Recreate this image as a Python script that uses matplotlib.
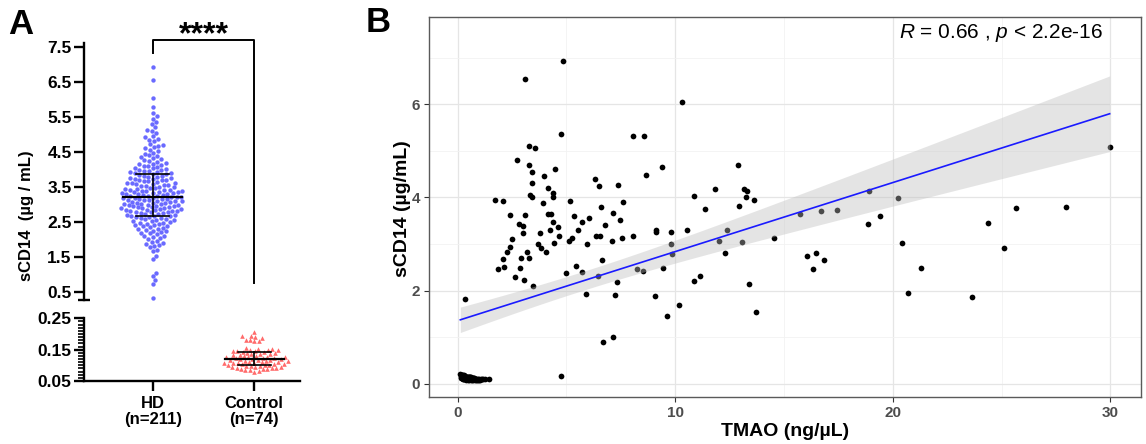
import numpy as np
import matplotlib
matplotlib.use("Agg")
import matplotlib.pyplot as plt

plt.rcParams['font.family'] = ['Liberation Sans', 'DejaVu Sans']
plt.rcParams['mathtext.fontset'] = 'custom'
plt.rcParams['mathtext.rm'] = 'Liberation Sans'
plt.rcParams['mathtext.it'] = 'Liberation Sans:italic'

# ---- panel A data (sCD14, ug/mL) ----
groups = ['HD\n(n=211)', 'Control\n(n=74)']
hd_vals = [0.33, 0.73, 0.85, 0.97, 1.05, 1.45, 1.55, 1.68, 1.72,
           1.78, 1.82, 1.85, 1.88, 1.90, 1.94, 1.97,
           2.02, 2.05, 2.08, 2.10, 2.12, 2.15, 2.18, 2.20, 2.22, 2.24,
           2.26, 2.28, 2.30, 2.32, 2.34, 2.36, 2.38, 2.40, 2.41, 2.43, 2.45, 2.46, 2.48, 2.49,
           2.51, 2.52, 2.54, 2.55, 2.57, 2.58, 2.60, 2.61, 2.63, 2.64, 2.66, 2.67, 2.68, 2.69,
           2.70, 2.71, 2.72, 2.74,
           2.76, 2.77, 2.78, 2.79, 2.80, 2.81, 2.82, 2.83, 2.84, 2.85, 2.86, 2.87, 2.88, 2.89,
           2.90, 2.91, 2.92, 2.93, 2.94, 2.95, 2.96, 2.97, 2.98, 2.99,
           3.00, 3.01, 3.02, 3.03, 3.04, 3.05, 3.06, 3.07, 3.08, 3.09, 3.10, 3.11, 3.12, 3.13,
           3.14, 3.15, 3.16, 3.17, 3.18, 3.19, 3.20, 3.21, 3.22, 3.23, 3.24, 3.245,
           3.26, 3.27, 3.28, 3.29, 3.30, 3.31, 3.32, 3.33, 3.34, 3.35, 3.36, 3.37, 3.38, 3.39,
           3.40, 3.41, 3.42, 3.43, 3.44, 3.45, 3.46, 3.47, 3.49,
           3.51, 3.52, 3.54, 3.55, 3.57, 3.58, 3.60, 3.61, 3.62, 3.63, 3.65, 3.66, 3.67, 3.69,
           3.70, 3.71, 3.72, 3.74,
           3.76, 3.77, 3.79, 3.80, 3.82, 3.83, 3.85, 3.86, 3.88, 3.89, 3.90, 3.92, 3.93, 3.95,
           3.96, 3.98, 3.99,
           4.01, 4.03, 4.05, 4.07, 4.09, 4.11, 4.13, 4.15, 4.17, 4.19, 4.21, 4.24,
           4.27, 4.30, 4.33, 4.36, 4.39, 4.42, 4.45, 4.48,
           4.52, 4.56, 4.60, 4.63, 4.66, 4.69, 4.72,
           4.80, 4.85, 4.88, 4.92, 4.96,
           5.05, 5.10, 5.14, 5.20, 5.30, 5.36, 5.45, 5.52, 5.60, 5.78,
           6.05, 6.55, 6.93]
ctrl_vals = [0.205, 0.192, 0.190, 0.188, 0.194, 0.180, 0.178, 0.182, 0.176,
             0.155, 0.153, 0.152, 0.150, 0.149, 0.148, 0.147, 0.146, 0.145, 0.144,
             0.142, 0.140, 0.138, 0.137, 0.136, 0.135, 0.134, 0.132, 0.131, 0.130,
             0.128, 0.127, 0.126, 0.125, 0.124, 0.123, 0.122, 0.121, 0.120, 0.119,
             0.118, 0.117, 0.116, 0.115, 0.114, 0.113, 0.112, 0.111, 0.110, 0.109,
             0.108, 0.107, 0.106, 0.105, 0.104, 0.103, 0.102, 0.101, 0.100, 0.099,
             0.098, 0.097, 0.096, 0.095, 0.094, 0.093, 0.092, 0.090, 0.089, 0.088,
             0.087, 0.085, 0.084, 0.082, 0.080]

# ---- panel B data (TMAO ng/uL vs sCD14 ug/mL) ----
tmao_hd = [0.32, 1.71, 2.09, 1.87, 2.09, 2.15, 2.28, 2.40, 2.40, 2.49, 2.65, 2.71, 2.86, 2.90,
           2.83, 2.98, 3.01, 3.06, 3.10, 3.10, 3.20, 3.26, 3.27, 3.29, 3.32, 3.41, 3.43, 3.43,
           3.44, 3.56, 3.69, 3.78, 3.85, 3.93, 3.96, 4.08, 4.13, 4.17, 4.24, 4.31, 4.36, 4.39,
           4.39, 4.43, 4.48, 4.63, 4.66, 4.74, 4.82, 4.74, 4.97, 5.11, 5.18, 5.24, 5.35, 5.46,
           5.55, 5.72, 5.72, 5.89, 5.96, 6.04, 6.30, 6.35, 6.44, 6.50, 6.54, 6.58, 6.65, 6.70,
           6.77, 7.09, 7.14, 7.13, 7.23, 7.33, 7.37, 7.45, 7.57, 7.60, 8.06, 8.07, 8.24, 8.52,
           8.55, 8.67, 9.07, 9.10, 9.10, 9.40, 9.42, 9.62, 9.80, 9.80, 9.85, 10.17, 10.31, 10.54,
           10.87, 10.87, 11.15, 11.35, 11.82, 12.03, 12.29, 12.39, 12.87, 12.95, 13.06, 13.15,
           13.23, 13.30, 13.38, 13.64, 13.73, 14.54, 15.73, 16.68, 17.42, 18.89, 20.23, 16.06,
           16.45, 16.34, 16.85, 18.86, 19.40, 20.43, 20.71, 21.31, 23.63, 24.37, 25.11, 25.68,
           27.96, 29.97]
scd14_hd = [1.82, 3.94, 3.93, 2.46, 2.67, 2.51, 2.82, 2.94, 3.62, 3.11, 2.30, 4.81, 2.48, 2.71,
            3.44, 3.39, 3.23, 2.24, 6.54, 3.62, 2.84, 2.71, 5.10, 4.69, 4.06, 4.00, 4.54, 4.31,
            2.10, 5.07, 3.01, 3.23, 2.91, 3.89, 4.46, 2.82, 3.65, 4.21, 3.31, 3.65, 3.48, 4.00,
            4.10, 3.03, 4.61, 3.37, 3.17, 5.36, 6.92, 0.16, 2.39, 3.07, 3.92, 3.12, 3.60, 2.53,
            3.30, 3.48, 2.41, 1.92, 3.01, 3.55, 4.39, 3.17, 2.32, 4.25, 3.17, 3.80, 2.66, 0.91,
            3.41, 3.07, 3.66, 1.01, 1.91, 2.19, 4.26, 3.51, 3.14, 3.91, 3.17, 5.32, 2.46, 2.43,
            5.32, 4.49, 1.89, 3.25, 3.30, 4.66, 2.48, 1.46, 3.25, 3.01, 2.79, 1.69, 6.04, 3.31,
            4.03, 2.21, 2.31, 3.76, 4.19, 3.07, 2.81, 3.30, 4.69, 3.82, 3.04, 4.19,
            4.00, 4.14, 2.14, 3.94, 1.54, 3.14, 3.64, 3.70, 3.72, 4.14, 3.99, 2.75,
            2.81, 2.46, 2.66, 3.44, 3.60, 3.03, 1.94, 2.49, 1.86, 3.46, 2.91, 3.78,
            3.80, 5.08]
tmao_ctrl = [0.12, 0.15, 0.18, 0.20, 0.22, 0.25, 0.28, 0.30, 0.33, 0.35,
             0.38, 0.40, 0.42, 0.45, 0.48, 0.50, 0.52, 0.55, 0.58, 0.60,
             0.14, 0.17, 0.21, 0.24, 0.27, 0.31, 0.34, 0.37, 0.41, 0.44,
             0.47, 0.51, 0.54, 0.57, 0.61, 0.64, 0.67, 0.70, 0.73, 0.76,
             0.19, 0.23, 0.29, 0.36, 0.43, 0.49, 0.56, 0.62, 0.68, 0.74,
             0.80, 0.85, 0.90, 0.95, 1.00, 1.05, 1.10, 1.18, 1.25, 1.45,
             0.26, 0.32, 0.39, 0.46, 0.53, 0.59, 0.66, 0.72, 0.78, 0.83,
             0.88, 0.93, 0.98, 1.02]
scd14_ctrl = ctrl_vals


def swarm_offsets(ax, center, vals, d):
    # simple beeswarm in pixel space, returns x positions in data units
    pts = ax.transData.transform(np.column_stack([np.full(len(vals), center), vals]))
    ypx = pts[:, 1]
    px_per_unit = (ax.transData.transform([[1, 0]]) - ax.transData.transform([[0, 0]]))[0, 0]
    placed = []
    xs = np.zeros(len(vals))
    for i in np.argsort(ypx):
        y = ypx[i]
        cands = [0.0]
        for (qx, qy) in placed:
            dy = abs(qy - y)
            if dy < d:
                dx = np.sqrt(d * d - dy * dy)
                cands += [qx + dx, qx - dx]
        cands.sort(key=abs)
        for c in cands:
            ok = True
            for (qx, qy) in placed:
                if (qx - c) ** 2 + (qy - y) ** 2 < d * d - 1e-6:
                    ok = False
                    break
            if ok:
                break
        placed.append((c, y))
        xs[i] = center + c / px_per_unit
    return xs


W, H = 1146, 444
fig = plt.figure(figsize=(W / 100, H / 100), dpi=100)

blue = '#6a6aff'
red = '#ff6b6b'
lw_ax = 1.7

# ---------- Panel A ----------
ax_top = fig.add_axes([84 / W, 1 - 300 / H, 216 / W, 257 / H])
ax_bot = fig.add_axes([84 / W, 1 - 381 / H, 216 / W, 62.7 / H])
for a in (ax_top, ax_bot):
    a.set_xlim(-0.676, 1.45)
    a.patch.set_alpha(0)
    for s in ('top', 'right'):
        a.spines[s].set_visible(False)
    a.spines['left'].set_linewidth(lw_ax)
ax_top.spines['bottom'].set_visible(False)
ax_bot.spines['bottom'].set_linewidth(lw_ax)

ax_top.set_ylim(0.283, 7.605)
ax_bot.set_ylim(0.05, 0.25)

hd_x = swarm_offsets(ax_top, 0, hd_vals, 4.7)
ax_top.scatter(hd_x, hd_vals, s=10, color=blue, linewidths=0, zorder=2, clip_on=False)
ctrl_x = swarm_offsets(ax_bot, 1, ctrl_vals, 4.5)
ax_bot.scatter(ctrl_x, ctrl_vals, s=11, marker='^', color=red, linewidths=0, zorder=2, clip_on=False)

# median and interquartile range
for a, c, v in ((ax_top, 0, hd_vals), (ax_bot, 1, ctrl_vals)):
    q1, med, q3 = np.percentile(v, [25, 50, 75])
    a.plot([c - 0.29, c + 0.29], [med, med], color='black', lw=1.6, zorder=3)
    a.plot([c - 0.165, c + 0.165], [q1, q1], color='black', lw=1.2, zorder=3)
    a.plot([c - 0.165, c + 0.165], [q3, q3], color='black', lw=1.2, zorder=3)
    a.plot([c, c], [q1, q3], color='black', lw=1.2, zorder=3)

ax_top.set_xticks([])
ax_top.set_yticks(np.arange(0.5, 7.6, 1.0))
ax_top.set_yticklabels(['%.1f' % t for t in np.arange(0.5, 7.6, 1.0)])
ax_top.set_yticks([0.283], minor=True)
ax_top.tick_params(axis='y', which='major', length=7, width=lw_ax, pad=2, labelsize=12.5)
ax_top.tick_params(axis='y', which='minor', length=8, width=lw_ax, direction='inout')

ax_bot.set_yticks([0.05, 0.15, 0.25])
ax_bot.set_yticklabels(['0.05', '0.15', '0.25'])
ax_bot.set_yticks(np.arange(0.06, 0.25, 0.01), minor=True)
ax_bot.tick_params(axis='y', which='major', length=7, width=lw_ax, pad=2, labelsize=12.5)
ax_bot.tick_params(axis='y', which='minor', length=4, width=1.2)
ax_bot.set_xticks([0, 1])
ax_bot.set_xticklabels(groups)
ax_bot.tick_params(axis='x', length=7, width=lw_ax, pad=4, labelsize=12)
for a in (ax_top, ax_bot):
    for lab in a.get_yticklabels() + a.get_xticklabels():
        lab.set_fontweight('bold')
        lab.set_linespacing(1.05)

# significance bracket
ax_top.plot([0, 0, 1, 1], [7.32, 7.69, 7.69, 0.77], color='black', lw=1.4, clip_on=False)
ax_top.text(0.5, 7.6, '****', ha='center', va='baseline', fontsize=23, fontweight='bold')

fig.text(27 / W, 1 - 216 / H, 'sCD14  (µg / mL)', rotation=90, ha='center', va='center',
         fontsize=12, fontweight='bold')
fig.text(21 / W, 1 - 25 / H, 'A', ha='center', va='center', fontsize=25, fontweight='bold')
fig.text(378 / W, 1 - 23 / H, 'B', ha='center', va='center', fontsize=25, fontweight='bold')

# ---------- Panel B ----------
axB = fig.add_axes([429 / W, 1 - 397 / H, 712 / W, 380 / H])
axB.set_xlim(-1.32, 31.41)
axB.set_ylim(-0.28, 7.87)

x_all = np.array(tmao_hd + tmao_ctrl)
y_all = np.array(scd14_hd + scd14_ctrl)
axB.scatter(x_all, y_all, s=17, color='black', linewidths=0, zorder=2)

# linear fit with 95% confidence band
slope, icpt = np.polyfit(x_all, y_all, 1)
n = len(x_all)
resid = y_all - (icpt + slope * x_all)
s_err = np.sqrt(np.sum(resid ** 2) / (n - 2))
xm = x_all.mean()
sxx = np.sum((x_all - xm) ** 2)
xf = np.linspace(x_all.min(), x_all.max(), 100)
yf = icpt + slope * xf
se = s_err * np.sqrt(1 / n + (xf - xm) ** 2 / sxx)
axB.fill_between(xf, yf - 1.97 * se, yf + 1.97 * se, color='#bdbdbd', alpha=0.4,
                 linewidth=0, zorder=3)
axB.plot(xf, yf, color='#1a1aff', lw=1.2, zorder=4)

axB.set_xticks([0, 10, 20, 30])
axB.set_yticks([0, 2, 4, 6])
axB.set_xticks([5, 15, 25], minor=True)
axB.set_yticks([1, 3, 5, 7], minor=True)
axB.grid(which='major', color='#e5e5e5', lw=0.9, zorder=0)
axB.grid(which='minor', color='#f2f2f2', lw=0.6, zorder=0)
axB.set_axisbelow(True)
axB.tick_params(which='major', length=3.5, width=0.8, color='#333333', labelcolor='#4d4d4d',
                labelsize=11, pad=3)
axB.tick_params(which='minor', length=0)
for lab in axB.get_xticklabels() + axB.get_yticklabels():
    lab.set_fontweight('bold')
for s in axB.spines.values():
    s.set_color('#5a5a5a')
    s.set_linewidth(1.0)
axB.set_xlabel('TMAO (ng/µL)', fontsize=14, fontweight='bold')
axB.set_ylabel('sCD14 (µg/mL)', fontsize=14, fontweight='bold')
axB.xaxis.set_label_coords(0.5, -0.092)
axB.yaxis.set_label_coords(-0.037, 0.495)
axB.get_xaxis().label.set_va('center')
axB.get_yaxis().label.set_va('center')
axB.text(0.947, 0.958, r'$R$ = 0.66 , $p$ < 2.2e-16', transform=axB.transAxes,
         ha='right', va='center', fontsize=15)

fig.savefig('out.png', dpi=100)
